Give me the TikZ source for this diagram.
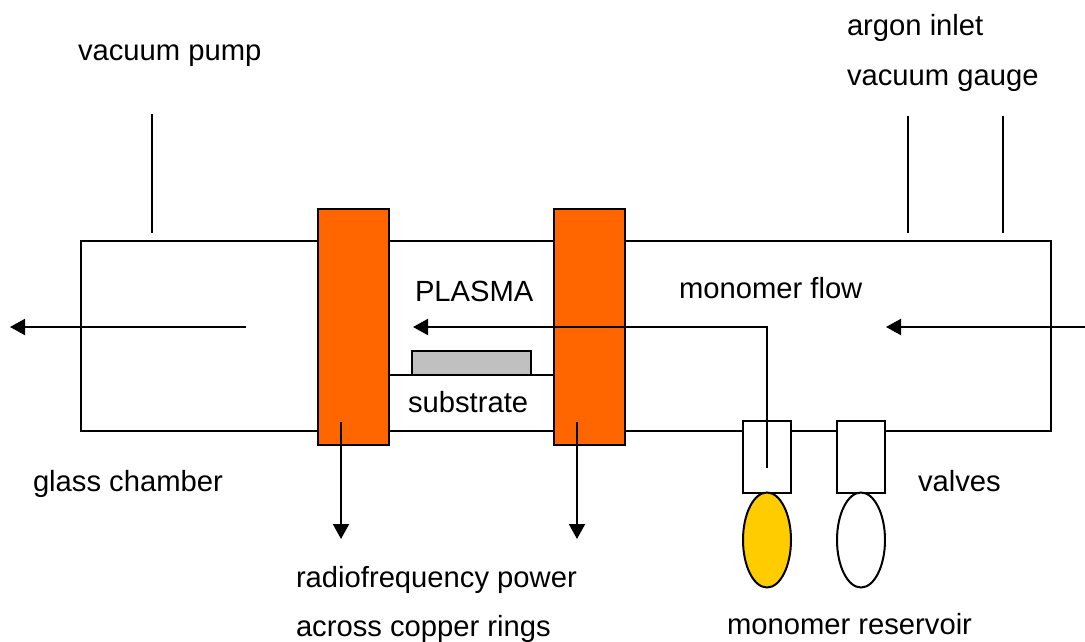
\documentclass[tikz,border=0pt]{standalone}
\usepackage{fontspec}
\setmainfont{Liberation Sans}
\usetikzlibrary{arrows.meta,shapes.geometric}
\tikzset{
  x=1pt,y=-1pt,
  every node/.style={inner sep=0pt,outer sep=0pt},
  ln/.style={draw=black,line width=2pt},
  box/.style={ln,rectangle,anchor=north west},
  coil/.style={box,fill=coilc,minimum width=71pt,minimum height=236pt},
  valve/.style={box,fill=white,minimum width=48pt,minimum height=72pt},
  res/.style={ln,ellipse,minimum width=48pt,minimum height=95pt,anchor=north},
  lab/.style={anchor=base west,font=\fontsize{29.2}{32}\selectfont,text=black},
  arr/.style={ln,-{Triangle[length=15pt,width=16pt]}}
}
\definecolor{coilc}{RGB}{255,102,0}
\definecolor{resc}{RGB}{255,204,0}
\definecolor{subc}{RGB}{192,192,192}
\begin{document}
\begin{tikzpicture}
\useasboundingbox (0,0) rectangle (1085,641);
\node[box,minimum width=970pt,minimum height=190pt] (chamber) at (81,241) {};
\coordinate (fl) at (388,375); \coordinate (fr) at (554,375);
\draw[ln] (fl) -- (fr);
\node[coil] (coilL) at (318,209) {};
\node[coil] (coilR) at (554,209) {};
\node[box,fill=subc,minimum width=119pt,minimum height=24pt] (sub) at (412,351) {};
\node[valve] (valveA) at (743,421) {};
\node[valve] (valveB) at (837,421) {};
\node[res,fill=resc] (resA) at (767,492.5) {};
\node[res,fill=white] (resB) at (861,492.5) {};
% stubs
\coordinate (p1) at (152,114); \coordinate (p1e) at (152,233);
\coordinate (p2) at (908,116); \coordinate (p2e) at (908,233);
\coordinate (p3) at (1003,116); \coordinate (p3e) at (1003,233);
\draw[ln] (p1) -- (p1e);
\draw[ln] (p2) -- (p2e);
\draw[ln] (p3) -- (p3e);
% flow arrows
\coordinate (a1s) at (246,327); \coordinate (a1e) at (10,327);
\coordinate (a2s) at (1085,327); \coordinate (a2e) at (886,327);
\coordinate (a3s) at (767,468); \coordinate (a3c) at (767,327); \coordinate (a3e) at (413,327);
\draw[arr] (a1s) -- (a1e);
\draw[arr] (a2s) -- (a2e);
\draw[arr] (a3s) -- (a3c) -- (a3e);
% rf arrows
\coordinate (r1s) at (341,422); \coordinate (r1e) at (341,539);
\coordinate (r2s) at (577,422); \coordinate (r2e) at (577,539);
\draw[arr] (r1s) -- (r1e);
\draw[arr] (r2s) -- (r2e);
% labels
\node[lab] (t1) at (78,60) {vacuum pump};
\node[lab] (t2) at (847,35) {argon inlet};
\node[lab] (t3) at (847,85) {vacuum gauge};
\node[lab] (t4) at (679,298) {monomer flow};
\node[lab] (t5) at (415,301) {PLASMA};
\node[lab] (t6) at (408,412) {substrate};
\node[lab] (t7) at (33,491) {glass chamber};
\node[lab] (t8) at (918,491) {valves};
\node[lab] (t9) at (296,587) {radiofrequency power};
\node[lab] (t10) at (296,636) {across copper rings};
\node[lab] (t11) at (727,634) {monomer reservoir};
\end{tikzpicture}
\end{document}
